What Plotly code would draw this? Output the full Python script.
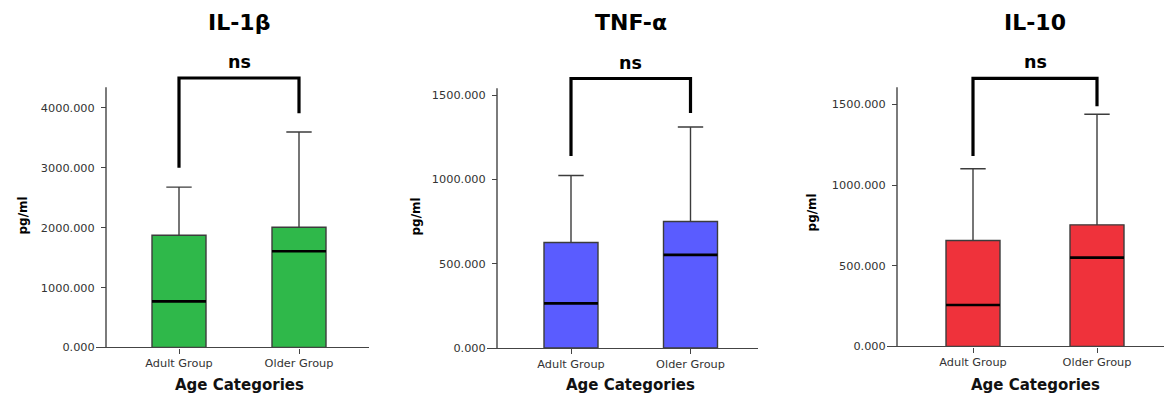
import plotly.graph_objects as go

# ---------------- data ----------------
categories = ["Adult Group", "Older Group"]
panel_titles = ["IL-1β", "TNF-α", "IL-10"]
x_title = "Age Categories"
y_title = "pg/ml"
sig_label = "ns"

il1b_q1 = [0, 0]
il1b_median = [770, 1607]
il1b_q3 = [1874, 2008]
il1b_lower = [0, 0]
il1b_upper = [2678, 3598]

tnf_q1 = [0, 0]
tnf_median = [265, 553]
tnf_q3 = [626, 751]
tnf_lower = [0, 0]
tnf_upper = [1024, 1311]

il10_q1 = [0, 0]
il10_median = [257, 551]
il10_q3 = [657, 754]
il10_lower = [0, 0]
il10_upper = [1102, 1440]

# significance brackets: [left leg bottom, right leg bottom], bracket top
il1b_bracket_legs = [3000, 3912]
il1b_bracket_top = 4500
tnf_bracket_legs = [1139, 1395]
tnf_bracket_top = 1599
il10_bracket_legs = [1181, 1490]
il10_bracket_top = 1662

il1b_ticks = [0, 1000, 2000, 3000, 4000]
tnf_ticks = [0, 500, 1000, 1500]
il10_ticks = [0, 500, 1000, 1500]

# ---------------- styling / layout geometry (screen pixels) ----------------
W, H = 1164, 394
YS = 402.0 / 394.0       # vertical correction for the capture
colors = ["#2fb84a", "#5a5cff", "#ef323b"]
dark = "#444444"

panels = [
    dict(q1=il1b_q1, med=il1b_median, q3=il1b_q3, lo=il1b_lower, hi=il1b_upper,
         legs=il1b_bracket_legs, top=il1b_bracket_top, ticks=il1b_ticks,
         xdom=(96, 369), centers=(179, 299), yline=106,
         zero=346.7, scale=239.0 / 4000, axtop=87, ylab=(23, 215)),
    dict(q1=tnf_q1, med=tnf_median, q3=tnf_q3, lo=tnf_lower, hi=tnf_upper,
         legs=tnf_bracket_legs, top=tnf_bracket_top, ticks=tnf_ticks,
         xdom=(487, 758), centers=(571, 690.5), yline=497,
         zero=347.3, scale=252.3 / 1500, axtop=88, ylab=(416, 216)),
    dict(q1=il10_q1, med=il10_median, q3=il10_q3, lo=il10_lower, hi=il10_upper,
         legs=il10_bracket_legs, top=il10_bracket_top, ticks=il10_ticks,
         xdom=(887, 1164), centers=(973, 1097), yline=897,
         zero=345.7, scale=241.4 / 1500, axtop=87, ylab=(812, 212)),
]

DOM_TOP_PX = 40

def fx(px):
    return px / W

def fy(py):
    return 1 - py * YS / H

fig = go.Figure()
layout = dict(
    width=W, height=H,
    margin=dict(l=0, r=0, t=0, b=0),
    paper_bgcolor="white", plot_bgcolor="white",
    showlegend=False, boxmode="overlay",
)
shapes = []
annotations = []

for i, p in enumerate(panels):
    n = "" if i == 0 else str(i + 1)
    xa, ya = "x" + n, "y" + n
    unit = p["centers"][1] - p["centers"][0]
    xr = [-(p["centers"][0] - p["xdom"][0]) / unit,
          (p["xdom"][1] - p["centers"][0]) / unit]
    yr = [0, (p["zero"] - DOM_TOP_PX) / p["scale"]]
    box_w = 54.0 / unit
    axis_top_val = (p["zero"] - p["axtop"]) / p["scale"]

    fig.add_trace(go.Box(
        x=categories, q1=p["q1"], median=p["med"], q3=p["q3"],
        lowerfence=p["lo"], upperfence=p["hi"],
        fillcolor=colors[i], line=dict(color="#3c3c3c", width=1.4),
        width=box_w, whiskerwidth=0.47, boxpoints=False,
        xaxis=xa, yaxis=ya, hoverinfo="skip",
    ))
    # thicker median line
    fig.add_trace(go.Box(
        x=categories, q1=p["med"], median=p["med"], q3=p["med"],
        lowerfence=p["med"], upperfence=p["med"],
        fillcolor="rgba(0,0,0,0)", line=dict(color="black", width=2.6),
        width=box_w, whiskerwidth=0, boxpoints=False,
        xaxis=xa, yaxis=ya, hoverinfo="skip",
    ))
    # significance bracket
    fig.add_trace(go.Scatter(
        x=[categories[0], categories[0], categories[1], categories[1]],
        y=[p["legs"][0], p["top"], p["top"], p["legs"][1]],
        mode="lines", line=dict(color="black", width=3.2),
        xaxis=xa, yaxis=ya, hoverinfo="skip",
    ))

    layout["xaxis" + n] = dict(
        type="category", domain=[fx(p["xdom"][0]), fx(p["xdom"][1])],
        range=xr, anchor=ya, showline=True, linecolor=dark, linewidth=1.3,
        ticks="outside", ticklen=5, tickcolor=dark, tickwidth=1.3,
        showgrid=False, zeroline=False,
        tickfont=dict(family="DejaVu Sans", size=11.3, color="#333333"),
        fixedrange=True,
    )
    layout["yaxis" + n] = dict(
        domain=[fy(p["zero"]), fy(DOM_TOP_PX)], range=yr,
        anchor="free", position=fx(p["yline"]),
        showline=False, showgrid=False, zeroline=False,
        ticks="outside", ticklen=5, tickcolor=dark, tickwidth=1.3,
        tickvals=p["ticks"], tickformat=".3f", ticklabelstandoff=4,
        tickfont=dict(family="DejaVu Sans", size=11.3, color="#333333"),
        fixedrange=True,
    )
    shapes.append(dict(
        type="line", xref="paper", yref=ya,
        x0=fx(p["yline"]), x1=fx(p["yline"]), y0=0, y1=axis_top_val,
        line=dict(color=dark, width=1.4),
    ))
    # significance label
    annotations.append(dict(
        text=sig_label, xref=xa, yref=ya, x=0.5, y=p["top"],
        yanchor="middle", yshift=16, showarrow=False,
        font=dict(family="DejaVu Sans", size=17.5, color="black", weight="bold"),
    ))
    # panel title
    annotations.append(dict(
        text=panel_titles[i], xref=xa, yref="paper", x=0.5, y=fy(22),
        yanchor="middle", showarrow=False,
        font=dict(family="DejaVu Sans", size=22, color="black", weight="bold"),
    ))
    # x axis title
    annotations.append(dict(
        text=x_title, xref=xa, yref="paper", x=0.5, y=fy(384),
        yanchor="middle", showarrow=False,
        font=dict(family="DejaVu Sans", size=15, color="#111111", weight="bold"),
    ))
    # y axis title
    annotations.append(dict(
        text=y_title, xref="paper", yref="paper",
        x=fx(p["ylab"][0]), y=fy(p["ylab"][1]),
        xanchor="center", yanchor="middle", textangle=-90, showarrow=False,
        font=dict(family="DejaVu Sans", size=12, color="black", weight="bold"),
    ))

layout["shapes"] = shapes
layout["annotations"] = annotations
fig.update_layout(**layout)
fig.write_html(
    "out.html",
    config={"displayModeBar": False},
    post_script="document.body.style.margin='0';document.body.style.overflow='hidden';",
)
